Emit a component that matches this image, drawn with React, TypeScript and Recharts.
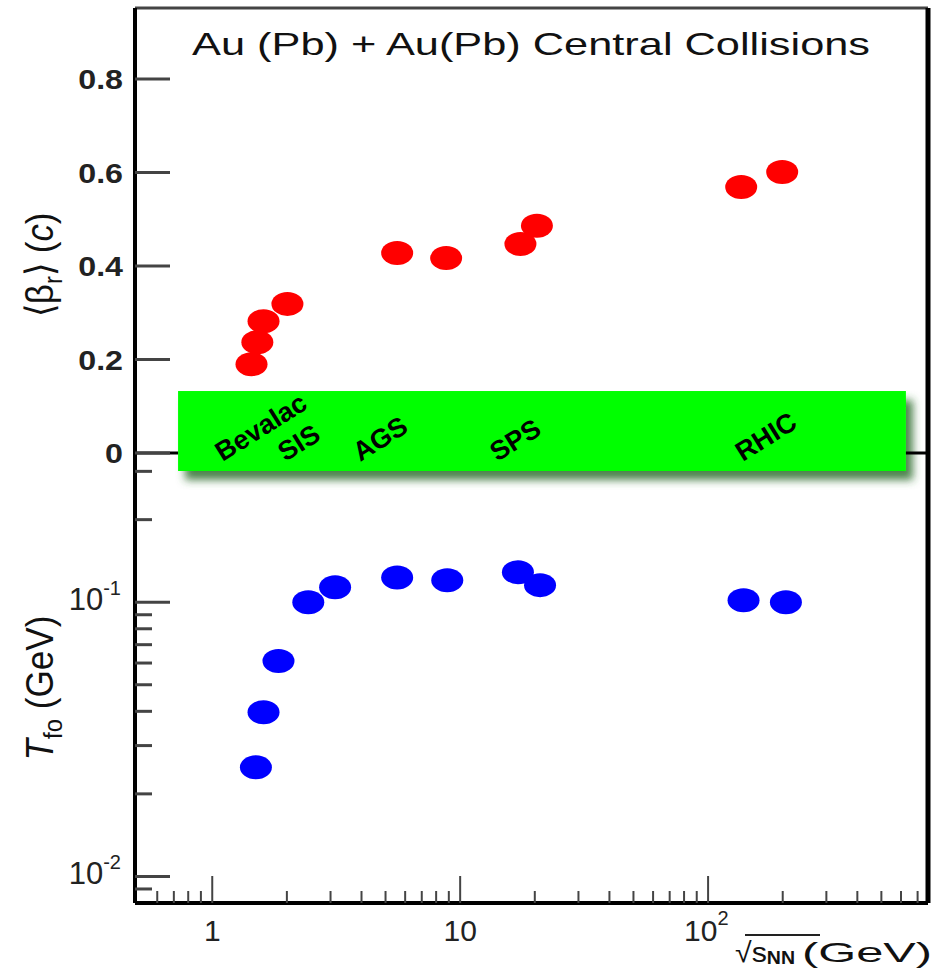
import { ScatterChart, Scatter, XAxis, YAxis, ReferenceLine, ReferenceArea } from "recharts";

const FONT = "'Liberation Sans', Arial, sans-serif";

// <beta_r> vs sqrt(s_NN), top panel
const flowEnergy = [1.44, 1.52, 1.61, 2.01, 5.57, 8.78, 17.5, 20.4, 136, 199];
const flowBeta = [0.19, 0.237, 0.282, 0.319, 0.428, 0.417, 0.447, 0.486, 0.569, 0.601];

// T_fo vs sqrt(s_NN), bottom panel
const tempEnergy = [1.5, 1.61, 1.85, 2.44, 3.13, 5.57, 8.87, 17.1, 21.0, 139, 206];
const tempT = [0.025, 0.0397, 0.061, 0.1, 0.1134, 0.123, 0.1203, 0.1287, 0.1154, 0.1017, 0.1];

// accelerator names written on the green band
const machines = ["Bevalac", "SIS", "AGS", "SPS", "RHIC"];
const machineEnergy = [1.1, 1.97, 3.95, 14.1, 138];

const xDomain = [0.488, 771];
const betaDomain = [0, 0.952];
const tempDomain = [0.008, 0.35];
const bandEnergy = [0.728, 628];
const bandBeta = [-0.0385, 0.1326];

const betaTicks = [0, 0.2, 0.4, 0.6, 0.8];
const tempTicks = [0.009, 0.01, 0.02, 0.03, 0.04, 0.05, 0.06, 0.07, 0.08, 0.09, 0.1, 0.2, 0.3];
const tempLabels: Record<string, string> = { "0.1": "-1", "0.01": "-2" };
const xTicks = [
  0.6, 0.7, 0.8, 0.9, 1, 2, 3, 4, 5, 6, 7, 8, 9, 10, 20, 30, 40, 50, 60, 70, 80, 90,
  100, 200, 300, 400, 500, 600, 700,
];
const xMajor = [1, 10, 100];

const flowData = flowEnergy.map((x, i) => ({ x, y: flowBeta[i] }));
const tempData = tempEnergy.map((x, i) => ({ x, y: tempT[i] }));
const machineData = machines.map((name, i) => ({ x: machineEnergy[i], y: 0, name }));

const blob = (color: string) => (p: any) => (
  <ellipse cx={p.cx} cy={p.cy} rx={16} ry={12} fill={color} />
);

const machineLabel = (p: any) => {
  const y = p.cy + 9;
  return (
    <text x={p.cx} y={y} transform={`rotate(-32 ${p.cx} ${y})`} fontFamily={FONT}
      fontWeight="bold" fontSize={27} fill="#000">
      {p.payload.name}
    </text>
  );
};

const BetaTick = ({ x, y, payload }: any) => (
  <g>
    <line x1={x} x2={x + 35} y1={y} y2={y} stroke="#444" strokeWidth={3} />
    <text transform={`translate(${x - 12},${y + 10}) scale(1.15,1)`} textAnchor="end"
      fontFamily={FONT} fontWeight="bold" fontSize={28} fill="#222">
      {payload.value === 0 ? "0" : payload.value.toFixed(1)}
    </text>
  </g>
);

const TempTick = ({ x, y, payload }: any) => {
  const exp = tempLabels[String(payload.value)];
  return (
    <g>
      <line x1={x} x2={x + (exp ? 35 : 17)} y1={y} y2={y} stroke="#444" strokeWidth={3} />
      {exp && (
        <text x={x - 14} y={y + 8} textAnchor="end" fontFamily={FONT} fontSize={31} fill="#222">
          10<tspan dy={-15} fontSize={20}>{exp}</tspan>
        </text>
      )}
    </g>
  );
};

const EnergyTick = ({ x, y, payload }: any) => {
  const v = payload.value;
  const major = xMajor.includes(v);
  return (
    <g>
      <line x1={x} x2={x} y1={y} y2={y - (major ? 27 : 12)} stroke="#444" strokeWidth={2} />
      {major && v < 100 && (
        <text x={x} y={y + 38} textAnchor="middle" fontFamily={FONT} fontSize={30} fill="#222">
          {String(v)}
        </text>
      )}
      {major && v === 100 && (
        <text x={x - 24} y={y + 38} fontFamily={FONT} fontSize={30} fill="#222">
          10<tspan dy={-16} fontSize={20}>2</tspan>
        </text>
      )}
    </g>
  );
};

const bandShape = (p: any) => (
  <g>
    <defs>
      <filter id="bandShadow" x="-5%" y="-30%" width="115%" height="170%">
        <feDropShadow dx={7} dy={9} stdDeviation={4} floodColor="#2f6e2f" floodOpacity={0.85} />
      </filter>
    </defs>
    <rect x={p.x} y={p.y} width={p.width} height={p.height} fill="#00ff00" filter="url(#bandShadow)" />
  </g>
);

// top and right edges of the upper panel frame
const topFrame = (p: any) => (
  <g>
    <line x1={p.x} x2={p.x + p.width} y1={p.y} y2={p.y} stroke="#444" strokeWidth={3} />
    <line x1={p.x + p.width} x2={p.x + p.width} y1={p.y} y2={p.y + p.height} stroke="#000" strokeWidth={5} />
  </g>
);

// right edge of the lower panel frame
const bottomFrame = (p: any) => (
  <line x1={p.x + p.width} x2={p.x + p.width} y1={p.y} y2={p.y + p.height} stroke="#000" strokeWidth={5} />
);

export default function App() {
  return (
    <div style={{ position: "relative", width: 947, height: 970, background: "#fff", fontFamily: FONT }}>
      <style>{"body{margin:0}"}</style>

      {/* bottom panel: freeze-out temperature, log scale */}
      <div style={{ position: "absolute", left: 0, top: 440 }}>
        <ScatterChart width={947} height={530} margin={{ top: 13, right: 19, bottom: 0, left: 75 }}>
          <XAxis type="number" dataKey="x" scale="log" domain={xDomain} ticks={xTicks}
            interval={0} height={67} tickSize={0} tickMargin={0} tick={<EnergyTick />}
            axisLine={{ stroke: "#000", strokeWidth: 4 }} tickLine={false} />
          <YAxis type="number" dataKey="y" scale="log" domain={tempDomain} ticks={tempTicks}
            interval={0} width={60} tickSize={0} tickMargin={0} tick={<TempTick />}
            axisLine={{ stroke: "#000", strokeWidth: 4 }} tickLine={false} />
          <ReferenceArea x1={xDomain[0]} x2={xDomain[1]} y1={tempDomain[0]} y2={tempDomain[1]}
            ifOverflow="visible" shape={bottomFrame} />
          <Scatter data={tempData} fill="#0000ff" shape={blob("#0000ff")} isAnimationActive={false} />
        </ScatterChart>
      </div>

      {/* top panel: mean radial flow velocity */}
      <div style={{ position: "absolute", left: 0, top: 0 }}>
        <ScatterChart width={947} height={500} margin={{ top: 8, right: 19, bottom: 47, left: 75 }}>
          <XAxis type="number" dataKey="x" scale="log" domain={xDomain} hide />
          <YAxis type="number" dataKey="y" domain={betaDomain} ticks={betaTicks} interval={0}
            width={60} tickSize={0} tickMargin={0} tick={<BetaTick />}
            axisLine={{ stroke: "#000", strokeWidth: 4 }} tickLine={false} />
          <ReferenceArea x1={xDomain[0]} x2={xDomain[1]} y1={betaDomain[0]} y2={betaDomain[1]}
            ifOverflow="visible" shape={topFrame} />
          <ReferenceLine segment={[{ x: xDomain[0], y: 0 }, { x: bandEnergy[0], y: 0 }]}
            stroke="#000" strokeWidth={3} ifOverflow="visible" />
          <ReferenceLine segment={[{ x: bandEnergy[1], y: 0 }, { x: xDomain[1], y: 0 }]}
            stroke="#000" strokeWidth={3} ifOverflow="visible" />
          <ReferenceArea x1={bandEnergy[0]} x2={bandEnergy[1]} y1={bandBeta[0]} y2={bandBeta[1]}
            ifOverflow="visible" shape={bandShape} />
          <Scatter data={flowData} fill="#ff0000" shape={blob("#ff0000")} isAnimationActive={false} />
          <Scatter data={machineData} shape={machineLabel} isAnimationActive={false} />
        </ScatterChart>
      </div>

      {/* titles and axis labels */}
      <svg width={947} height={970} style={{ position: "absolute", left: 0, top: 0, pointerEvents: "none" }}>
        <text x={192} y={55} fontFamily={FONT} fontSize={32} fill="#111" textLength={678}
          lengthAdjust="spacingAndGlyphs">
          Au (Pb) + Au(Pb) Central Collisions
        </text>
        <text transform="translate(42,265) scale(1.4,1) rotate(-90)" x={0} y={8} textAnchor="middle"
          fontFamily={FONT} fontSize={28} fill="#111" textLength={105} lengthAdjust="spacingAndGlyphs">
          ⟨β<tspan dy={6} fontSize={19}>r</tspan><tspan dy={-6}>⟩ (</tspan>
          <tspan fontStyle="italic">c</tspan>)
        </text>
        <text transform="translate(42,688) scale(1.4,1) rotate(-90)" x={0} y={8} textAnchor="middle"
          fontFamily={FONT} fontSize={28} fill="#111" textLength={145} lengthAdjust="spacingAndGlyphs">
          <tspan fontStyle="italic">T</tspan><tspan dy={6} fontSize={19}>fo</tspan>
          <tspan dy={-6}> (GeV)</tspan>
        </text>
        <text x={735} y={962} fontFamily={FONT} fontSize={28} fill="#111" textLength={60}
          lengthAdjust="spacingAndGlyphs">
          √s<tspan dy={2} fontSize={18} fontWeight="bold">NN</tspan>
        </text>
        <line x1={745} x2={820} y1={935} y2={935} stroke="#222" strokeWidth={2} />
        <text x={802} y={962} fontFamily={FONT} fontSize={28} fill="#111" textLength={130}
          lengthAdjust="spacingAndGlyphs">
          (GeV)
        </text>
      </svg>
    </div>
  );
}
